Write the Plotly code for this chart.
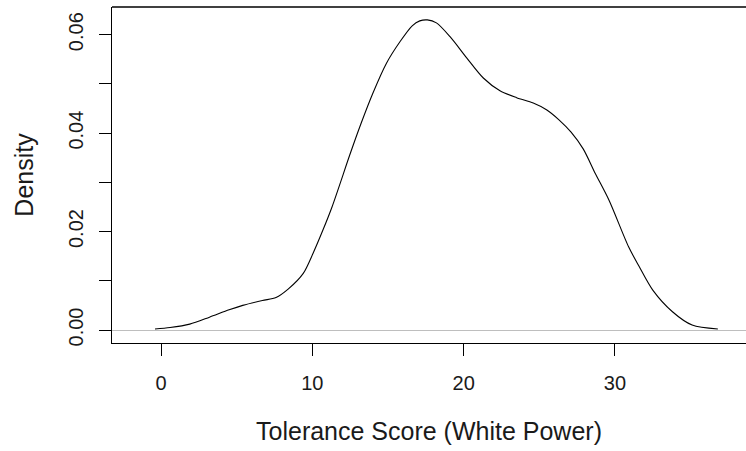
import plotly.graph_objects as go

# Kernel density estimate of the tolerance score (White Power)
score = [-0.4, 0.6, 1.9, 3.2, 4.5, 5.4, 6.7, 7.6, 8.4, 9.4, 10.05, 10.7, 11.3,
         12.5, 13.2, 14.0, 14.9, 15.8, 16.6, 17.1, 17.6, 18.2, 19.1, 20.2,
         21.3, 22.4, 23.5, 24.6, 25.5, 26.3, 27.1, 27.9, 28.7, 29.6, 30.9,
         31.6, 32.5, 33.8, 35.1, 36.8]
density = [0.0002, 0.0005, 0.0012, 0.0026, 0.0041, 0.0050, 0.0060, 0.0066,
           0.0083, 0.0115, 0.0156, 0.0203, 0.0250, 0.0358, 0.0418, 0.0481,
           0.0542, 0.0586, 0.0618, 0.0628, 0.0630, 0.0624, 0.0596, 0.0553,
           0.0512, 0.0486, 0.0472, 0.0461, 0.0447, 0.0427, 0.0402, 0.0368,
           0.0318, 0.0264, 0.0169, 0.0129, 0.0081, 0.0037, 0.0010, 0.0002]

x_ticks = [0, 10, 20, 30]
y_ticks = [0.00, 0.02, 0.04, 0.06]
y_tick_labels = ["0.00", "0.02", "0.04", "0.06"]
y_minor_ticks = [0.01, 0.03, 0.05]

FONT = "Liberation Sans, Arial, sans-serif"
INK = "#1a1a1a"

fig = go.Figure()
fig.add_trace(go.Scatter(
    x=score, y=density, mode="lines",
    line=dict(color="black", width=1.1, shape="spline", smoothing=0.8),
    hoverinfo="skip", showlegend=False,
))

fig.update_layout(
    width=746, height=451,
    margin=dict(l=112, r=0, t=7, b=108),
    paper_bgcolor="white", plot_bgcolor="white",
    font=dict(family=FONT, color=INK),
    xaxis=dict(
        range=[-3.24, 38.66], showgrid=False, zeroline=False,
        showline=True, linecolor="black", linewidth=1.3,
        tickmode="array", tickvals=x_ticks, ticktext=[str(v) for v in x_ticks],
        ticks="outside", ticklen=12, tickwidth=1.2, tickcolor="black",
        tickfont=dict(size=20, family=FONT, color=INK),
        ticklabelstandoff=10,
        title=dict(text="Tolerance Score (White Power)",
                   font=dict(size=25, family=FONT, color=INK), standoff=29),
        automargin=False,
    ),
    yaxis=dict(
        range=[-0.00264, 0.06562], showgrid=False,
        zeroline=True, zerolinecolor="#bebebe", zerolinewidth=1.2,
        showline=True, linecolor="black", linewidth=1.3,
        tickmode="array", tickvals=y_ticks, ticktext=y_tick_labels,
        ticks="outside", ticklen=12, tickwidth=1.2, tickcolor="black",
        tickangle=-90,
        tickfont=dict(size=20, family=FONT, color=INK),
        ticklabelstandoff=8,
        minor=dict(tickvals=y_minor_ticks, ticks="outside", ticklen=12,
                   tickwidth=1.2, tickcolor="black", showgrid=False),
        title=dict(text="Density",
                   font=dict(size=25, family=FONT, color=INK), standoff=24),
        automargin=False,
    ),
    shapes=[dict(type="line", xref="paper", yref="paper", x0=0, x1=1, y0=1, y1=1,
                 line=dict(color="black", width=1.3))],
)

fig.write_html("out.html")
